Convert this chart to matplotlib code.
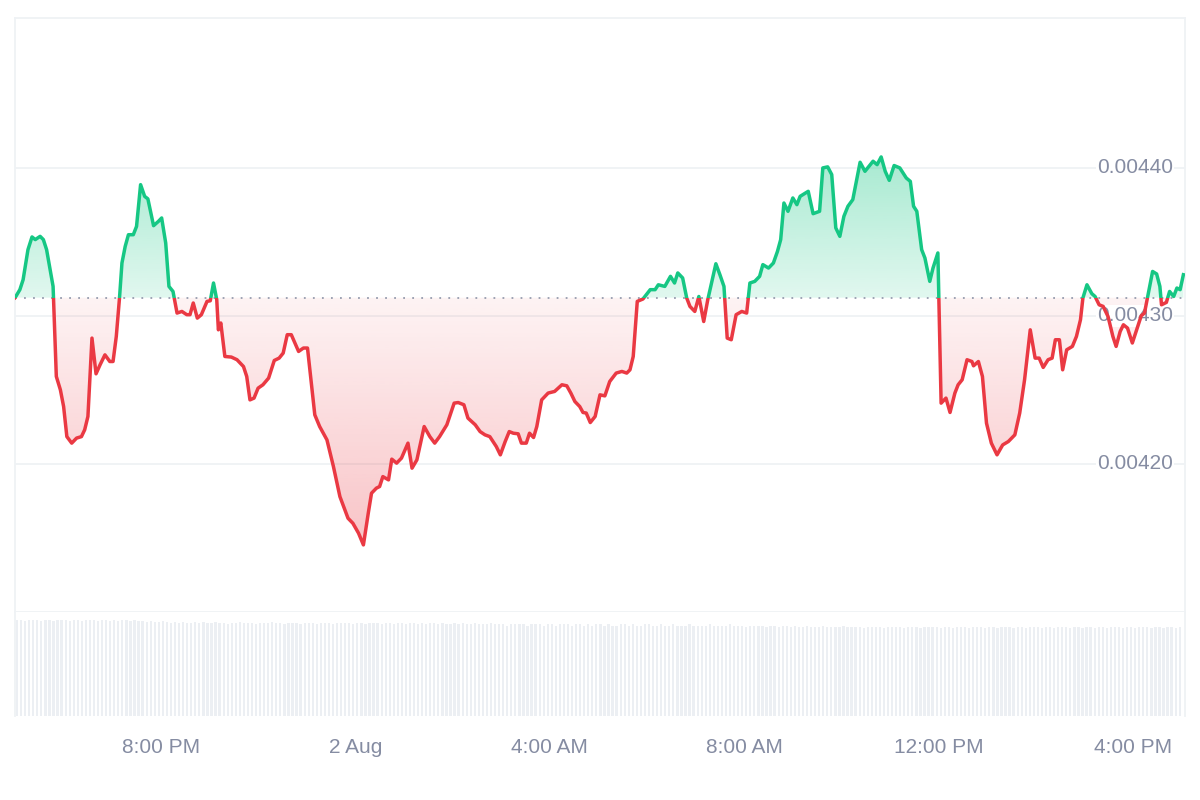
import numpy as np
import matplotlib
matplotlib.use("Agg")
import matplotlib.pyplot as plt
import matplotlib.transforms as mtransforms
from matplotlib.path import Path
from matplotlib.patches import Rectangle
from matplotlib.colors import to_rgb


# minutes after 1 Aug 17:00, and price at that minute
TIME_MIN = [
    0, 1, 6, 10, 16, 21, 25, 31, 35, 39, 47, 51, 56, 60, 64, 70, 76, 82, 86, 90,
    95, 100, 105, 111, 117, 121, 125, 129, 132, 136, 140, 146, 150, 155, 160, 164,
    171, 177, 181, 186, 190, 195, 200, 206, 212, 216, 220, 225, 230, 237, 241, 245,
    249, 251, 254, 259, 267, 274, 282, 286, 290, 295, 300, 306, 313, 320, 326, 331,
    336, 341, 350, 356, 361, 370, 376, 385, 393, 401, 411, 417, 424, 430, 436, 440,
    446, 450, 454, 461, 465, 471, 477, 485, 490, 496, 505, 512, 518, 524, 533, 542,
    547, 554, 559, 568, 574, 580, 586, 594, 599, 605, 610, 615, 621, 625, 631, 635,
    640, 644, 650, 658, 666, 675, 681, 686, 691, 697, 701, 705, 710, 716, 722, 728,
    734, 742, 749, 755, 759, 763, 768, 775, 784, 790, 794, 802, 809, 814, 818, 824,
    829, 833, 839, 844, 850, 855, 865, 870, 875, 879, 884, 890, 897, 903, 907, 913,
    919, 923, 930, 936, 941, 945, 949, 954, 960, 965, 969, 979, 985, 993, 997, 1003,
    1008, 1013, 1018, 1023, 1028, 1034, 1043, 1049, 1059, 1064, 1069, 1074, 1079,
    1085, 1092, 1100, 1105, 1109, 1113, 1119, 1123, 1129, 1133, 1139, 1143, 1149,
    1154, 1160, 1164, 1169, 1175, 1181, 1183, 1189, 1194, 1199, 1205, 1212, 1219,
    1226, 1234, 1240, 1246, 1253, 1259, 1264, 1269, 1275, 1280, 1284, 1289, 1293,
    1298, 1305, 1310, 1315, 1318, 1323, 1329, 1333, 1338, 1343, 1349, 1355, 1359,
    1364, 1368, 1373, 1379, 1385, 1390, 1394, 1398, 1404, 1409, 1413, 1415, 1421,
    1425, 1430, 1434, 1438, 1442,
]
PRICE = [
    0.0043122, 0.0043130, 0.0043176, 0.0043243, 0.0043446, 0.0043532, 0.0043514,
    0.0043536, 0.0043514, 0.0043446, 0.0043198, 0.0042590, 0.0042500, 0.0042387,
    0.0042184, 0.0042140, 0.0042174, 0.0042184, 0.0042230, 0.0042320, 0.0042849,
    0.0042608, 0.0042669, 0.0042736, 0.0042691, 0.0042691, 0.0042860, 0.0043122,
    0.0043356, 0.0043468, 0.0043547, 0.0043547, 0.0043603, 0.0043885, 0.0043806,
    0.0043789, 0.0043608, 0.0043637, 0.0043660, 0.0043491, 0.0043198, 0.0043164,
    0.0043018, 0.0043029, 0.0043007, 0.0043007, 0.0043086, 0.0042984, 0.0043007,
    0.0043097, 0.0043101, 0.0043221, 0.0043108, 0.0042905, 0.0042951, 0.0042725,
    0.0042721, 0.0042703, 0.0042657, 0.0042590, 0.0042432, 0.0042444, 0.0042511,
    0.0042534, 0.0042579, 0.0042698, 0.0042714, 0.0042748, 0.0042872, 0.0042872,
    0.0042759, 0.0042782, 0.0042782, 0.0042331, 0.0042252, 0.0042162, 0.0041982,
    0.0041779, 0.0041633, 0.0041599, 0.0041532, 0.0041453, 0.0041667, 0.0041802,
    0.0041836, 0.0041847, 0.0041914, 0.0041892, 0.0042032, 0.0042005, 0.0042039,
    0.0042140, 0.0041971, 0.0042027, 0.0042252, 0.0042184, 0.0042140, 0.0042184,
    0.0042264, 0.0042410, 0.0042414, 0.0042399, 0.0042309, 0.0042264, 0.0042218,
    0.0042196, 0.0042184, 0.0042117, 0.0042061, 0.0042151, 0.0042218, 0.0042207,
    0.0042203, 0.0042140, 0.0042140, 0.0042207, 0.0042178, 0.0042252, 0.0042432,
    0.0042478, 0.0042489, 0.0042534, 0.0042527, 0.0042478, 0.0042421, 0.0042387,
    0.0042347, 0.0042343, 0.0042279, 0.0042320, 0.0042466, 0.0042459, 0.0042556,
    0.0042613, 0.0042624, 0.0042613, 0.0042635, 0.0042725, 0.0043097, 0.0043113,
    0.0043176, 0.0043176, 0.0043209, 0.0043198, 0.0043266, 0.0043221, 0.0043289,
    0.0043255, 0.0043120, 0.0043063, 0.0043029, 0.0043130, 0.0042961, 0.0043108,
    0.0043351, 0.0043277, 0.0043198, 0.0042849, 0.0042838, 0.0043007, 0.0043029,
    0.0043018, 0.0043221, 0.0043232, 0.0043266, 0.0043345, 0.0043322, 0.0043356,
    0.0043434, 0.0043514, 0.0043761, 0.0043705, 0.0043795, 0.0043750, 0.0043806,
    0.0043840, 0.0043689, 0.0043705, 0.0043998, 0.0044005, 0.0043953, 0.0043593,
    0.0043536, 0.0043671, 0.0043739, 0.0043784, 0.0044036, 0.0043975, 0.0044043,
    0.0044020, 0.0044072, 0.0043975, 0.0043914, 0.0044014, 0.0043998, 0.0043930,
    0.0043907, 0.0043739, 0.0043705, 0.0043446, 0.0043390, 0.0043232, 0.0043322,
    0.0043424, 0.0042410, 0.0042444, 0.0042347, 0.0042478, 0.0042534, 0.0042568,
    0.0042703, 0.0042691, 0.0042662, 0.0042691, 0.0042590, 0.0042275, 0.0042140,
    0.0042061, 0.0042128, 0.0042151, 0.0042196, 0.0042343, 0.0042568, 0.0042905,
    0.0042714, 0.0042714, 0.0042651, 0.0042703, 0.0042714, 0.0042838, 0.0042838,
    0.0042635, 0.0042770, 0.0042793, 0.0042860, 0.0042973, 0.0043120, 0.0043209,
    0.0043149, 0.0043130, 0.0043074, 0.0043063, 0.0042995, 0.0042860, 0.0042793,
    0.0042894, 0.0042939, 0.0042917, 0.0042816, 0.0042917, 0.0043000, 0.0043018,
    0.0043130, 0.0043299, 0.0043282, 0.0043198, 0.0043074, 0.0043090, 0.0043164,
    0.0043130, 0.0043187, 0.0043176, 0.0043277,
]
OPEN_PRICE = 0.0043122

# 5-minute volume buckets (relative)
VOLUME = [
    92, 92, 91, 92, 92, 92, 91, 92, 92, 91, 92, 92, 92, 91, 92, 92, 91, 92, 92, 92, 91, 92, 92, 91,
    92, 91, 92, 92, 91, 92, 91, 91, 90, 91, 90, 90, 91, 90, 89, 90, 89, 90, 89, 89, 90, 89, 90, 89,
    89, 90, 89, 89, 88, 89, 89, 90, 89, 89, 89, 88, 89, 89, 89, 90, 89, 89, 88, 89, 89, 89, 88, 89,
    89, 89, 88, 89, 89, 89, 88, 89, 89, 89, 89, 88, 89, 89, 88, 89, 89, 89, 88, 89, 89, 88, 89, 89,
    88, 89, 89, 88, 89, 88, 89, 89, 88, 89, 88, 88, 89, 88, 89, 88, 88, 89, 88, 88, 88, 89, 88, 88,
    88, 87, 88, 88, 88, 88, 87, 88, 88, 88, 87, 88, 88, 87, 88, 88, 88, 87, 88, 88, 87, 88, 87, 88,
    88, 87, 88, 87, 87, 88, 88, 87, 88, 87, 87, 88, 88, 87, 87, 88, 87, 87, 88, 87, 87, 87, 88, 87,
    87, 87, 87, 88, 87, 87, 87, 87, 88, 87, 87, 87, 86, 87, 87, 87, 87, 86, 87, 87, 86, 87, 87, 86,
    87, 86, 86, 87, 86, 86, 86, 87, 86, 86, 86, 86, 87, 86, 86, 86, 86, 85, 86, 86, 86, 86, 85, 86,
    86, 86, 86, 85, 86, 86, 86, 85, 86, 86, 86, 86, 85, 86, 86, 85, 86, 86, 86, 85, 86, 86, 86, 85,
    86, 86, 85, 86, 86, 86, 85, 86, 86, 85, 86, 86, 86, 85, 86, 86, 85, 86, 86, 86, 85, 86, 86, 85,
    86, 86, 85, 86, 86, 85, 86, 86, 86, 85, 86, 86, 85, 86, 86, 86, 85, 86, 86, 85, 86, 86, 85, 86,
]

Y_TICKS = [0.0042, 0.0043, 0.0044]
Y_LABELS = ["0.00420", "0.00430", "0.00440"]
X_TICKS = [180, 420, 660, 900, 1140, 1380]
X_LABELS = ["8:00 PM", "2 Aug", "4:00 AM", "8:00 AM", "12:00 PM", "4:00 PM"]

GREEN = "#16c784"
RED = "#ea3943"
GRID = "#eff2f5"
TEXT = "#858ca2"

plt.rcParams["font.family"] = ["Liberation Sans", "DejaVu Sans"]

t = np.array(TIME_MIN, dtype=float)
p = np.array(PRICE)
x0, x1 = 0, 1444
y0, y1 = 0.0041, 0.004501

fig = plt.figure(figsize=(12, 8), dpi=100)
ax = fig.add_axes([15 / 1200, 188 / 800, 1170 / 1200, 594 / 800])
axv = fig.add_axes([15 / 1200, 84 / 800, 1170 / 1200, 104 / 800])


def gradient_fill(where, color, bottom, top, a_bottom, a_top):
    coll = ax.fill_between(t, p, OPEN_PRICE, where=where, interpolate=True,
                           facecolor="none", edgecolor="none")
    clip = Path.make_compound_path(*coll.get_paths())
    grad = np.zeros((256, 1, 4))
    grad[..., :3] = to_rgb(color)
    grad[:, 0, 3] = np.linspace(a_bottom, a_top, 256)
    im = ax.imshow(grad, extent=[x0, x1, bottom, top], origin="lower",
                   aspect="auto", interpolation="bilinear", zorder=1)
    im.set_clip_path(clip, transform=ax.transData)


gradient_fill(p >= OPEN_PRICE, GREEN, OPEN_PRICE, 0.00441, 0.13, 0.38)
gradient_fill(p <= OPEN_PRICE, RED, 0.004145, OPEN_PRICE, 0.30, 0.06)

# line coloured above / below the open price
for color, rect in [
    (GREEN, Rectangle((x0, OPEN_PRICE), x1 - x0, 1, transform=ax.transData)),
    (RED, Rectangle((x0, 0), x1 - x0, OPEN_PRICE, transform=ax.transData)),
]:
    line, = ax.plot(t, p, color=color, lw=2.5, solid_joinstyle="round", zorder=3)
    line.set_clip_path(rect)

ax.axhline(OPEN_PRICE, color="#959cae", lw=1.3, ls=(0, (1, 4)), zorder=2)

ytrans = mtransforms.blended_transform_factory(ax.transAxes, ax.transData)
for yv, lab in zip(Y_TICKS, Y_LABELS):
    ax.axhline(yv, color=GRID, lw=1.3, zorder=0)
    ax.text(1 - 12 / 1170, yv, lab, transform=ytrans,
            ha="right", va="center", color=TEXT, fontsize=15, zorder=2,
            bbox=dict(facecolor="white", edgecolor="none", pad=1))

ax.set_xlim(x0, x1)
ax.set_ylim(y0, y1)
ax.set_xticks([])
ax.set_yticks([])
for s in ax.spines.values():
    s.set_color(GRID)
    s.set_linewidth(1.3)

# volume strip
vol_t = np.arange(len(VOLUME)) * 5 + 2.5
axv.bar(vol_t, VOLUME, width=2.8, color="#eceff3", linewidth=0)
axv.set_xlim(x0, x1)
axv.set_ylim(0, 100)
axv.set_yticks([])
axv.set_xticks(X_TICKS, X_LABELS)
axv.tick_params(axis="x", length=0, pad=16, labelsize=15, labelcolor=TEXT)
for side in ["top", "bottom"]:
    axv.spines[side].set_visible(False)
for side in ["left", "right"]:
    axv.spines[side].set_color(GRID)
    axv.spines[side].set_linewidth(1.3)

fig.savefig("out.png", dpi=100, facecolor="white")
